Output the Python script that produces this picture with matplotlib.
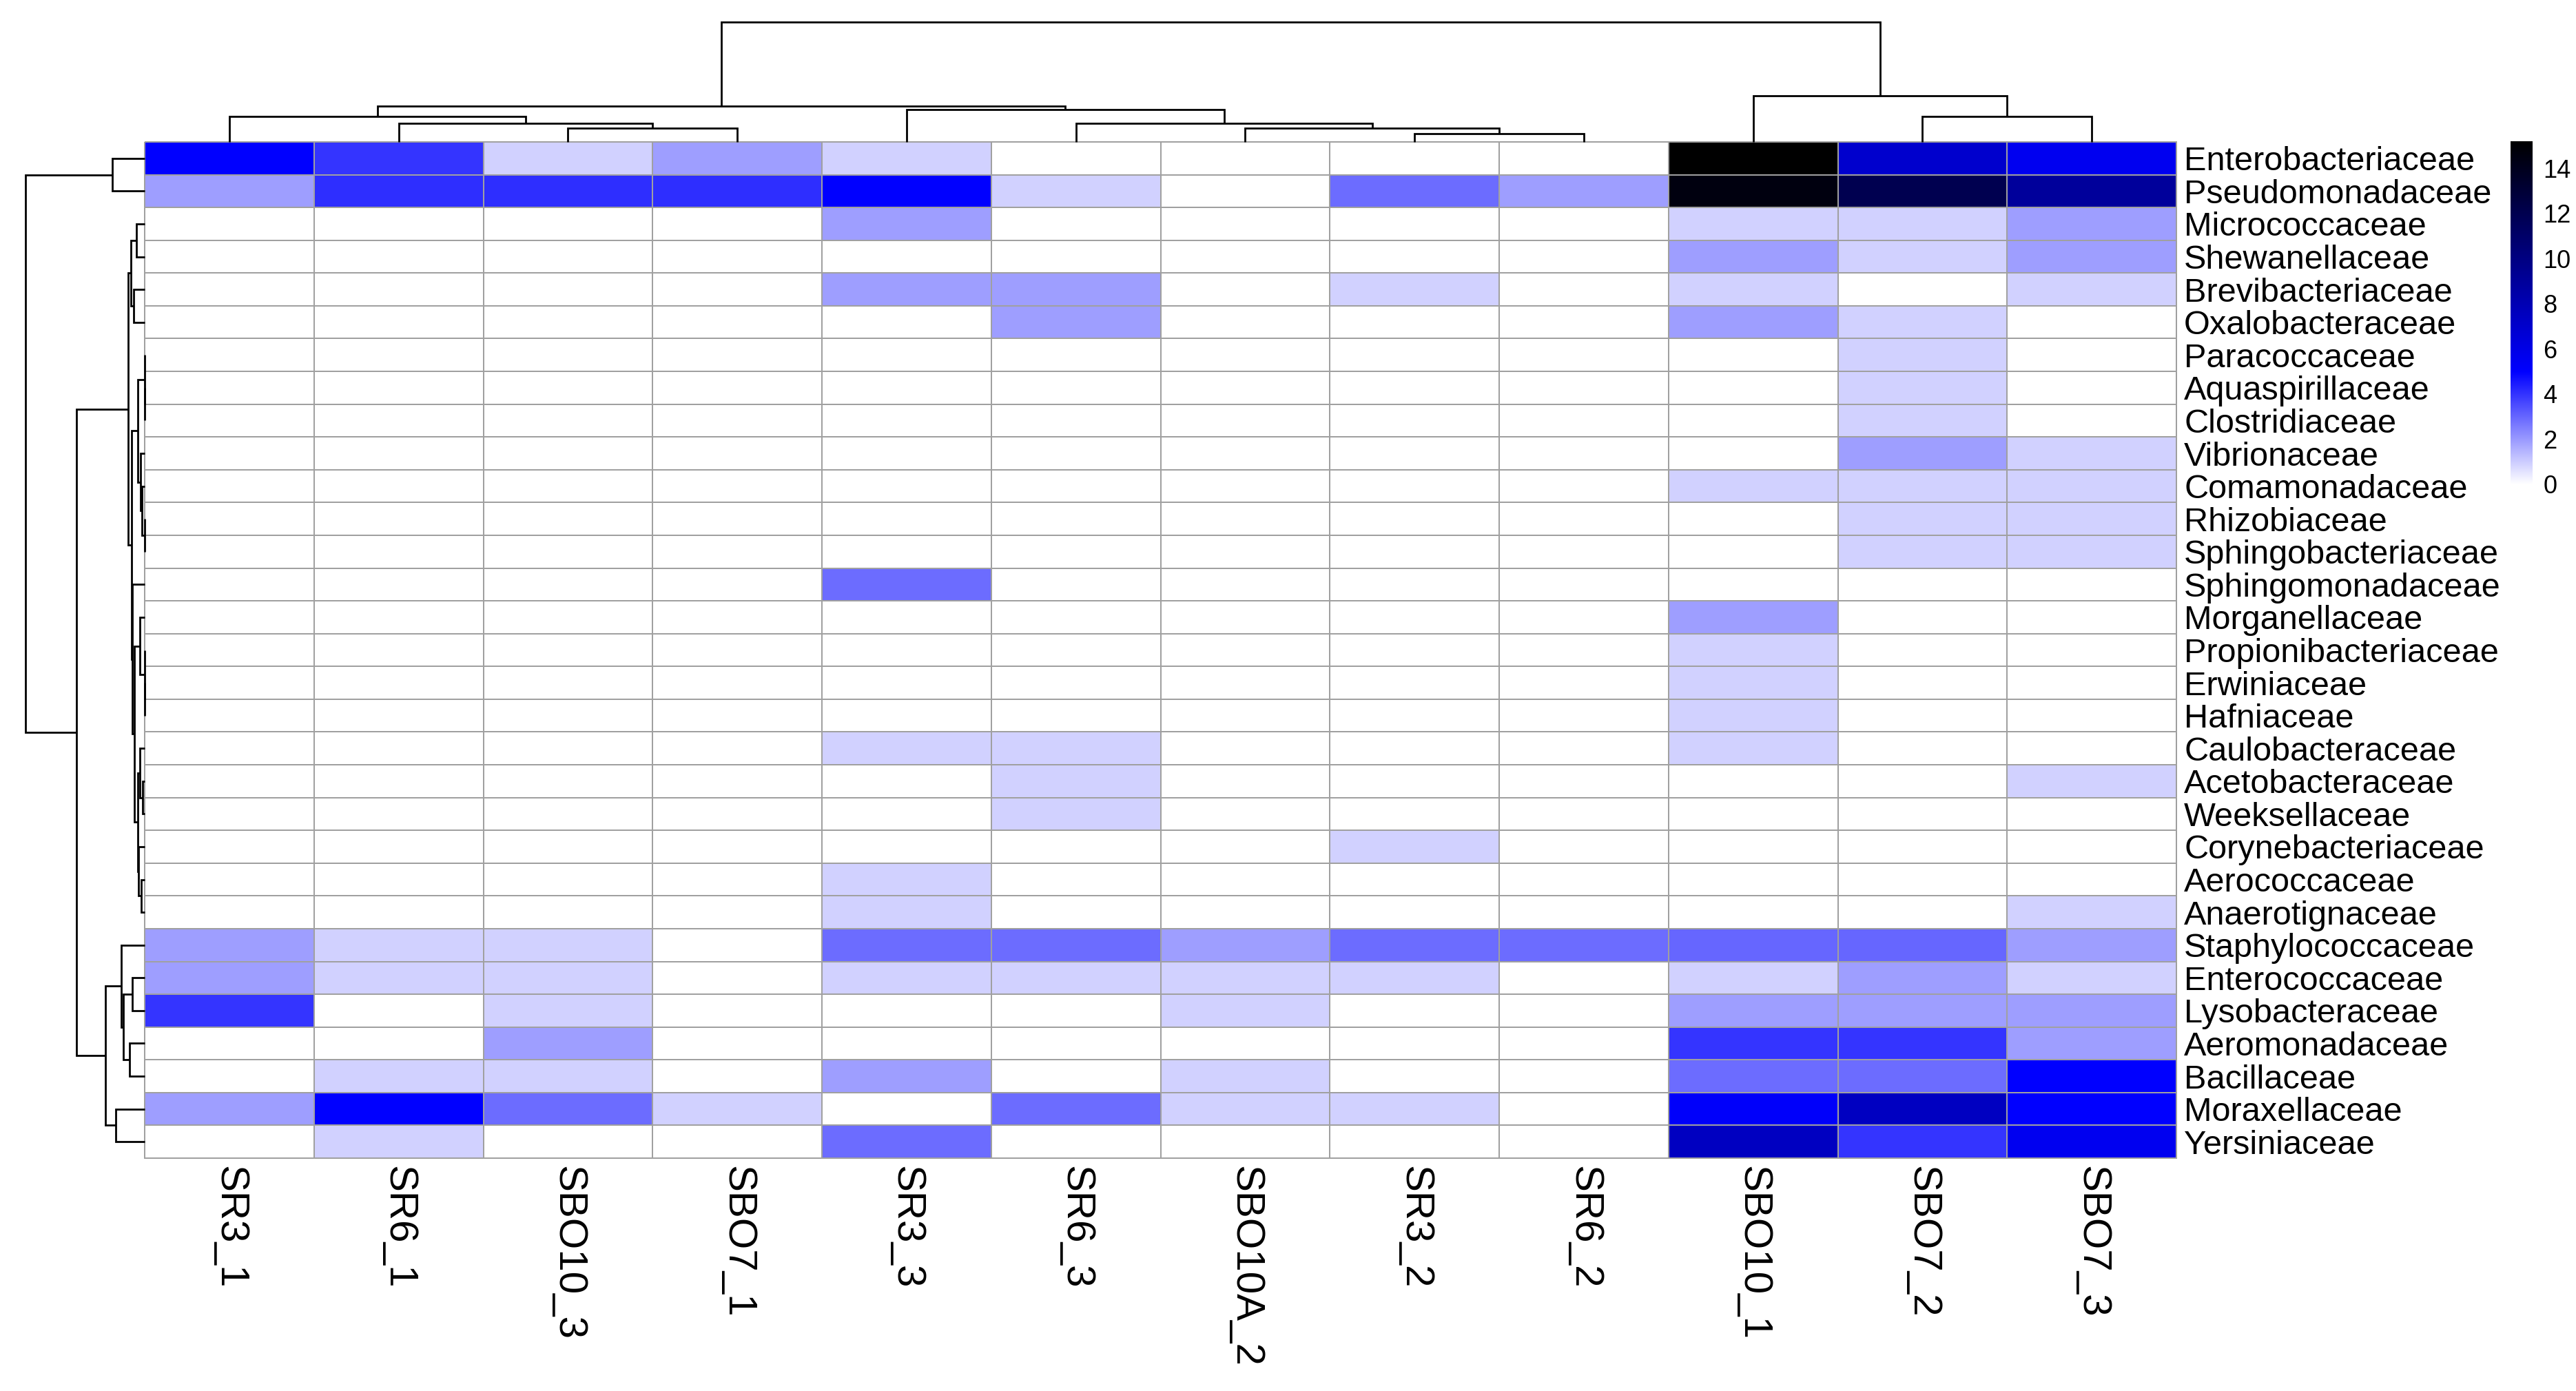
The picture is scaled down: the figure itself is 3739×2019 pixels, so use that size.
import numpy as np
import matplotlib
matplotlib.use("Agg")
import matplotlib.pyplot as plt
from matplotlib.colors import LinearSegmentedColormap

plt.rcParams['font.family'] = ['Liberation Sans', 'DejaVu Sans']

# ---------------- data ----------------
samples = ["SR3_1", "SR6_1", "SBO10_3", "SBO7_1", "SR3_3", "SR6_3",
           "SBO10A_2", "SR3_2", "SR6_2", "SBO10_1", "SBO7_2", "SBO7_3"]

families = ["Enterobacteriaceae", "Pseudomonadaceae", "Micrococcaceae", "Shewanellaceae",
            "Brevibacteriaceae", "Oxalobacteraceae", "Paracoccaceae", "Aquaspirillaceae",
            "Clostridiaceae", "Vibrionaceae", "Comamonadaceae", "Rhizobiaceae",
            "Sphingobacteriaceae", "Sphingomonadaceae", "Morganellaceae",
            "Propionibacteriaceae", "Erwiniaceae", "Hafniaceae", "Caulobacteraceae",
            "Acetobacteraceae", "Weeksellaceae", "Corynebacteriaceae", "Aerococcaceae",
            "Anaerotignaceae", "Staphylococcaceae", "Enterococcaceae", "Lysobacteraceae",
            "Aeromonadaceae", "Bacillaceae", "Moraxellaceae", "Yersiniaceae"]

values = [
    [5.0, 4.0, 0.9, 1.9, 0.9, 0, 0, 0, 0, 15.2, 7.0, 5.6],      # Enterobacteriaceae
    [1.9, 4.1, 4.1, 4.1, 5.0, 0.9, 0, 2.9, 1.9, 14.6, 12.0, 9.0],  # Pseudomonadaceae
    [0, 0, 0, 0, 1.9, 0, 0, 0, 0, 0.9, 0.9, 1.9],               # Micrococcaceae
    [0, 0, 0, 0, 0, 0, 0, 0, 0, 1.9, 0.9, 1.9],                 # Shewanellaceae
    [0, 0, 0, 0, 1.9, 1.9, 0, 0.9, 0, 0.9, 0, 0.9],             # Brevibacteriaceae
    [0, 0, 0, 0, 0, 1.9, 0, 0, 0, 1.9, 0.9, 0],                 # Oxalobacteraceae
    [0, 0, 0, 0, 0, 0, 0, 0, 0, 0, 0.9, 0],                     # Paracoccaceae
    [0, 0, 0, 0, 0, 0, 0, 0, 0, 0, 0.9, 0],                     # Aquaspirillaceae
    [0, 0, 0, 0, 0, 0, 0, 0, 0, 0, 0.9, 0],                     # Clostridiaceae
    [0, 0, 0, 0, 0, 0, 0, 0, 0, 0, 1.9, 0.9],                   # Vibrionaceae
    [0, 0, 0, 0, 0, 0, 0, 0, 0, 0.9, 0.9, 0.9],                 # Comamonadaceae
    [0, 0, 0, 0, 0, 0, 0, 0, 0, 0, 0.9, 0.9],                   # Rhizobiaceae
    [0, 0, 0, 0, 0, 0, 0, 0, 0, 0, 0.9, 0.9],                   # Sphingobacteriaceae
    [0, 0, 0, 0, 2.9, 0, 0, 0, 0, 0, 0, 0],                     # Sphingomonadaceae
    [0, 0, 0, 0, 0, 0, 0, 0, 0, 1.9, 0, 0],                     # Morganellaceae
    [0, 0, 0, 0, 0, 0, 0, 0, 0, 0.9, 0, 0],                     # Propionibacteriaceae
    [0, 0, 0, 0, 0, 0, 0, 0, 0, 0.9, 0, 0],                     # Erwiniaceae
    [0, 0, 0, 0, 0, 0, 0, 0, 0, 0.9, 0, 0],                     # Hafniaceae
    [0, 0, 0, 0, 0.9, 0.9, 0, 0, 0, 0.9, 0, 0],                 # Caulobacteraceae
    [0, 0, 0, 0, 0, 0.9, 0, 0, 0, 0, 0, 0.9],                   # Acetobacteraceae
    [0, 0, 0, 0, 0, 0.9, 0, 0, 0, 0, 0, 0],                     # Weeksellaceae
    [0, 0, 0, 0, 0, 0, 0, 0.9, 0, 0, 0, 0],                     # Corynebacteriaceae
    [0, 0, 0, 0, 0.9, 0, 0, 0, 0, 0, 0, 0],                     # Aerococcaceae
    [0, 0, 0, 0, 0.9, 0, 0, 0, 0, 0, 0, 0.9],                   # Anaerotignaceae
    [1.9, 0.9, 0.9, 0, 2.9, 2.9, 1.9, 2.9, 2.9, 3.0, 3.0, 1.9],  # Staphylococcaceae
    [1.9, 0.9, 0.9, 0, 0.9, 0.9, 0.9, 0.9, 0, 0.9, 1.9, 0.9],   # Enterococcaceae
    [4.0, 0, 0.9, 0, 0, 0, 0.9, 0, 0, 1.9, 1.9, 1.9],           # Lysobacteraceae
    [0, 0, 1.9, 0, 0, 0, 0, 0, 0, 4.0, 4.0, 1.9],               # Aeromonadaceae
    [0, 0.9, 0.9, 0, 1.9, 0, 0.9, 0, 0, 2.9, 2.9, 5.0],         # Bacillaceae
    [1.9, 5.0, 2.9, 0.9, 0, 2.9, 0.9, 0.9, 0, 5.2, 7.5, 5.0],   # Moraxellaceae
    [0, 0.9, 0, 0, 2.9, 0, 0, 0, 0, 7.5, 4.0, 5.6],             # Yersiniaceae
]

# clustering trees: (left, right, merge height); ints are positions in display order
col_dendrogram = (
    ((0, (1, (2, 3, 19.7), 26.7), 36.7),
     (4, (5, (6, (7, 8, 12.4), 19.7), 26.7), 46.7), 51.7),
    (9, (10, 11, 36.7), 66.7),
    173.4)

row_dendrogram = (
    (0, 1, 46.7),
    ((((2, 3, 11.8), (4, 5, 15.7), 20.0),
      (((6, (7, 8, 0.0), 0.0), (9, (10, (11, 12, 0.0), 4.0), 6.0), 10.0),
       (13,
        ((14, (15, (16, 17, 0.0), 0.0), 7.3),
         ((18, (19, 20, 3.5), 7.5), (21, (22, 23, 5.0), 9.0), 10.0),
         15.0),
        18.5),
       19.3),
      24.5),
     (((24, ((25, 26, 18.0), (27, 28, 22.3), 31.1), 34.4), (29, 30, 42.0), 56.7)),
     99.0),
    173.3)

legend_ticks = [0, 2, 4, 6, 8, 10, 12, 14]
value_max = 15.2
blue_at = 5.0

# ---------------- figure ----------------
W, H = 3739, 2019
fig = plt.figure(figsize=(W / 100, H / 100), dpi=100)


def rect(x0, y0, x1, y1):
    return [x0 / W, 1 - y1 / H, (x1 - x0) / W, (y1 - y0) / H]


cmap = LinearSegmentedColormap.from_list(
    "wbk", [(0.0, "white"), (blue_at / value_max, "blue"), (1.0, "black")], N=512)

data = np.array(values, dtype=float)
nrow, ncol = data.shape

# heatmap
ax = fig.add_axes(rect(210, 206, 3159, 1681))
mesh = ax.pcolormesh(np.arange(ncol + 1), np.arange(nrow + 1), data, cmap=cmap,
                     vmin=0, vmax=value_max, edgecolors="#a0a0a0", linewidth=1.4)
mesh.set_clip_on(False)
ax.set_xlim(0, ncol)
ax.set_ylim(nrow, 0)
for s in ax.spines.values():
    s.set_visible(False)
ax.yaxis.tick_right()
ax.set_yticks(np.arange(nrow) + 0.5)
ax.set_yticklabels(families, fontsize=35)
ax.set_xticks(np.arange(ncol) + 0.5)
ax.set_xticklabels(samples, fontsize=42, rotation=-90)
ax.tick_params(axis="both", length=0)
ax.tick_params(axis="y", pad=8)
ax.tick_params(axis="x", pad=8)

LW = 2.0


def draw_tree(a, node, orient):
    if isinstance(node, int):
        return node + 0.5, 0.0
    left, right, h = node
    c1, h1 = draw_tree(a, left, orient)
    c2, h2 = draw_tree(a, right, orient)
    if orient == "top":
        a.plot([c1, c1, c2, c2], [h1, h, h, h2], color="black", lw=LW,
               clip_on=False, solid_joinstyle="miter", solid_capstyle="butt")
    else:
        a.plot([h1, h, h, h2], [c1, c1, c2, c2], color="black", lw=LW,
               clip_on=False, solid_joinstyle="miter", solid_capstyle="butt")
    return (c1 + c2) / 2, h


# column dendrogram
axc = fig.add_axes(rect(210, 32, 3159, 206))
draw_tree(axc, col_dendrogram, "top")
axc.set_xlim(0, ncol)
axc.set_ylim(0, col_dendrogram[2])
axc.axis("off")

# row dendrogram
axr = fig.add_axes(rect(37, 206, 210, 1681))
draw_tree(axr, row_dendrogram, "left")
axr.set_xlim(row_dendrogram[2], 0)
axr.set_ylim(nrow, 0)
axr.axis("off")

# legend / colorbar
axl = fig.add_axes(rect(3644, 205, 3676, 703))
grad = np.linspace(0, value_max, 512).reshape(-1, 1)
axl.imshow(grad, origin="lower", aspect="auto", cmap=cmap, vmin=0, vmax=value_max,
           extent=[0, 1, 0, value_max])
axl.set_xlim(0, 1)
axl.set_ylim(0, value_max)
axl.set_xticks([])
axl.yaxis.tick_right()
axl.set_yticks(legend_ticks)
axl.set_yticklabels([str(t) for t in legend_ticks], fontsize=26)
axl.tick_params(axis="y", length=0, pad=11)
for s in axl.spines.values():
    s.set_visible(False)

fig.savefig("out.png", dpi=100, facecolor="white")
